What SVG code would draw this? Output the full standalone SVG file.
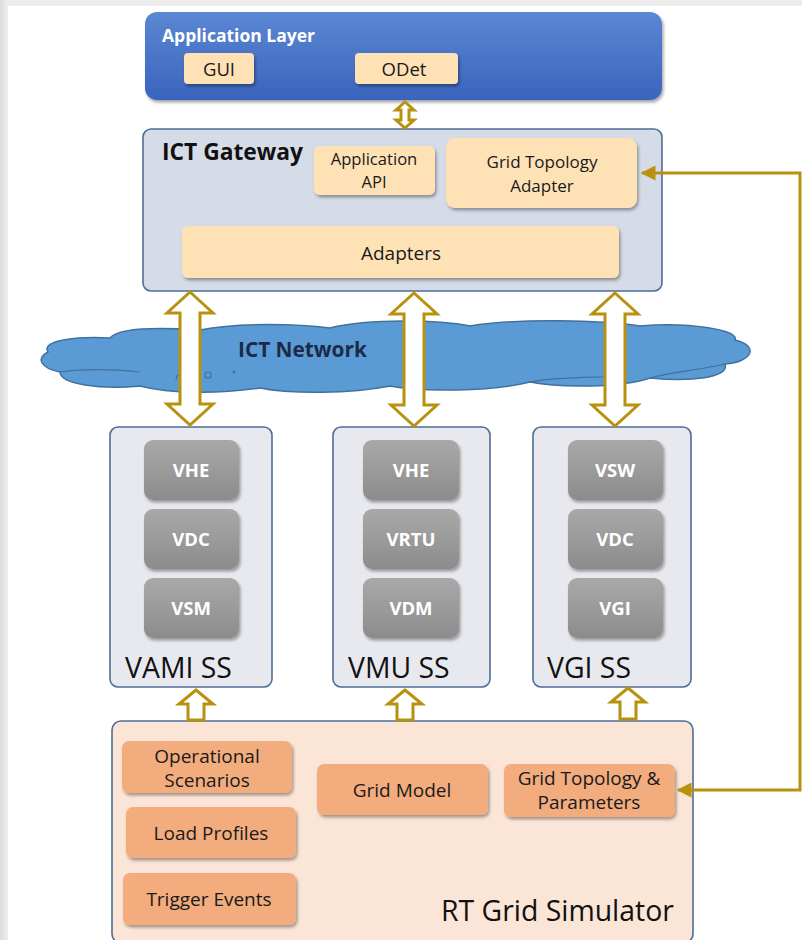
<svg xmlns="http://www.w3.org/2000/svg" width="802" height="940" viewBox="0 0 802 940">
  <defs>
    <linearGradient id="gBlue" x1="0" y1="0" x2="0" y2="1">
      <stop offset="0" stop-color="#5b87d3"/>
      <stop offset="1" stop-color="#3a64bd"/>
    </linearGradient>
    <linearGradient id="gGray" x1="0" y1="0" x2="0" y2="1">
      <stop offset="0" stop-color="#a9a9a9"/>
      <stop offset="1" stop-color="#8c8c8c"/>
    </linearGradient>
    <linearGradient id="gEdgeL" x1="0" y1="0" x2="1" y2="0">
      <stop offset="0" stop-color="#dcdcdc"/>
      <stop offset="1" stop-color="#efefef"/>
    </linearGradient>
    <filter id="shadow" x="-10%" y="-10%" width="125%" height="140%">
      <feDropShadow dx="1.5" dy="2.5" stdDeviation="1.8" flood-color="#000" flood-opacity="0.35"/>
    </filter>
    <marker id="tipL" viewBox="0 0 10 10" refX="9" refY="5" markerWidth="5" markerHeight="5" orient="auto-start-reverse">
      <path d="M0,0 L10,5 L0,10 z" fill="#b8920f"/>
    </marker>
    <style>
      .peach { fill: #fee2b6; filter: url(#shadow); }
      .orange { fill: #f2ac7d; filter: url(#shadow); }
      .gray { fill: url(#gGray); filter: url(#shadow); }
      .panel { stroke: #4d6e96; stroke-width: 1.6; }
      .t { font-family: "Open Sans", Lato, "Liberation Sans", sans-serif; fill: #1a1a1a; text-anchor: middle; }
      .tw { font-family: "Open Sans", Lato, "Liberation Sans", sans-serif; fill: #ffffff; font-weight: bold; font-size: 18.5px; text-anchor: middle; }
      .big { font-family: "Open Sans", Lato, "Liberation Sans", sans-serif; fill: #111; font-size: 28.4px; }
      .head { font-family: "Open Sans", Lato, "Liberation Sans", sans-serif; font-weight: bold; }
      .dbl { fill: #ffffff; stroke: #b8920f; stroke-width: 3; stroke-linejoin: miter; }
      .link { fill: none; stroke: #b8920f; stroke-width: 3; }
    </style>
  </defs>

  <!-- page background -->
  <rect x="0" y="0" width="802" height="940" fill="#ffffff"/>
  <rect x="0" y="0" width="802" height="6" fill="#ececec"/>
  <rect x="0" y="0" width="8" height="940" fill="url(#gEdgeL)"/>

  <!-- network cloud -->
  <g id="ict-network">
    <path d="M48,352 C40,340 80,336 110,338 C120,326 170,328 200,330 C240,322 300,324 330,328 C370,318 440,320 470,326 C520,318 600,320 640,326 C690,322 740,330 735,340 C760,346 752,362 725,364 C730,378 690,382 650,378 C620,388 560,388 530,382 C490,392 420,392 390,386 C350,394 290,394 260,388 C220,394 170,394 140,386 C100,390 60,384 60,372 C40,368 36,358 48,352 z" fill="#5b9bd5" stroke="#41719c" stroke-width="1.5"/>
    <path d="M60,372 C90,368 120,370 140,372 M530,382 C560,376 600,378 620,376 M650,378 C670,372 700,370 725,364" fill="none" stroke="#41719c" stroke-width="1.2"/>
    <circle cx="208" cy="375" r="3" fill="none" stroke="#41719c" stroke-width="1.2"/>
    <circle cx="234" cy="372" r="1.6" fill="#41719c"/>
    <path d="M176,380 C176,374 182,372 184,376" fill="none" stroke="#41719c" stroke-width="1.2"/>
    <text x="238" y="357" class="head" font-size="20.8" fill="#1c2a48">ICT Network</text>
  </g>

  <!-- application layer -->
  <g id="application-layer">
    <rect x="145" y="12" width="517" height="88" rx="12" fill="url(#gBlue)" filter="url(#shadow)"/>
    <text x="162" y="42" class="head" font-size="17.5" fill="#ffffff">Application Layer</text>
    <g id="gui">
      <rect x="184" y="53" width="70" height="31" rx="4" class="peach"/>
      <text x="219" y="76" class="t" font-size="18.5">GUI</text>
    </g>
    <g id="odet">
      <rect x="355" y="53" width="103" height="31" rx="4" class="peach"/>
      <text x="404" y="76" class="t" font-size="18.5">ODet</text>
    </g>
  </g>

  <!-- ICT gateway -->
  <g id="ict-gateway">
    <rect x="143" y="129" width="519" height="162" rx="8" fill="#d6dce7" class="panel"/>
    <text x="162" y="160" class="head" font-size="22.8" fill="#111">ICT Gateway</text>
    <g id="application-api">
      <rect x="314" y="146" width="121" height="49" rx="6" class="peach"/>
      <text x="374" y="165" class="t" font-size="16.6">Application</text>
      <text x="374" y="188" class="t" font-size="16.6">API</text>
    </g>
    <g id="grid-topology-adapter">
      <rect x="446" y="138" width="191" height="70" rx="9" class="peach"/>
      <text x="542" y="168" class="t" font-size="17">Grid Topology</text>
      <text x="542" y="192" class="t" font-size="17">Adapter</text>
    </g>
    <g id="adapters">
      <rect x="182" y="226" width="437" height="52" rx="6" class="peach"/>
      <text x="401" y="260" class="t" font-size="19">Adapters</text>
    </g>
  </g>

  <!-- VAMI subsystem -->
  <g id="vami-ss">
    <rect x="110" y="427" width="162" height="260" rx="8" fill="#e8e9ee" class="panel"/>
    <rect x="144" y="440" width="95" height="60" rx="9" class="gray"/>
    <text x="191" y="477" class="tw">VHE</text>
    <rect x="144" y="509" width="95" height="60" rx="9" class="gray"/>
    <text x="191" y="546" class="tw">VDC</text>
    <rect x="144" y="578" width="95" height="60" rx="9" class="gray"/>
    <text x="191" y="615" class="tw">VSM</text>
    <text x="125" y="678" class="big">VAMI SS</text>
  </g>

  <!-- VMU subsystem -->
  <g id="vmu-ss">
    <rect x="333" y="427" width="157" height="260" rx="8" fill="#e8e9ee" class="panel"/>
    <rect x="363" y="440" width="96" height="60" rx="9" class="gray"/>
    <text x="411" y="477" class="tw">VHE</text>
    <rect x="363" y="509" width="96" height="60" rx="9" class="gray"/>
    <text x="411" y="546" class="tw">VRTU</text>
    <rect x="363" y="578" width="96" height="60" rx="9" class="gray"/>
    <text x="411" y="615" class="tw">VDM</text>
    <text x="348" y="678" class="big">VMU SS</text>
  </g>

  <!-- VGI subsystem -->
  <g id="vgi-ss">
    <rect x="533" y="427" width="158" height="260" rx="8" fill="#e8e9ee" class="panel"/>
    <rect x="568" y="440" width="95" height="60" rx="9" class="gray"/>
    <text x="615" y="477" class="tw">VSW</text>
    <rect x="568" y="509" width="95" height="60" rx="9" class="gray"/>
    <text x="615" y="546" class="tw">VDC</text>
    <rect x="568" y="578" width="95" height="60" rx="9" class="gray"/>
    <text x="615" y="615" class="tw">VGI</text>
    <text x="547" y="678" class="big">VGI SS</text>
  </g>

  <!-- real-time grid simulator -->
  <g id="rt-grid-simulator">
    <rect x="112" y="721" width="581" height="222" rx="9" fill="#fbe5d6" class="panel"/>
    <g id="operational-scenarios">
      <rect x="122" y="741" width="170" height="52" rx="7" class="orange"/>
      <text x="207" y="763" class="t" font-size="19">Operational</text>
      <text x="207" y="787" class="t" font-size="19">Scenarios</text>
    </g>
    <g id="load-profiles">
      <rect x="126" y="807" width="170" height="51" rx="7" class="orange"/>
      <text x="211" y="840" class="t" font-size="19">Load Profiles</text>
    </g>
    <g id="trigger-events">
      <rect x="123" y="873" width="173" height="52" rx="7" class="orange"/>
      <text x="209" y="906" class="t" font-size="19">Trigger Events</text>
    </g>
    <g id="grid-model">
      <rect x="317" y="764" width="171" height="51" rx="7" class="orange"/>
      <text x="402" y="797" class="t" font-size="19">Grid Model</text>
    </g>
    <g id="grid-topology-parameters">
      <rect x="504" y="764" width="171" height="53" rx="7" class="orange"/>
      <text x="589" y="785" class="t" font-size="19">Grid Topology &amp;</text>
      <text x="589" y="809" class="t" font-size="19">Parameters</text>
    </g>
    <text x="441" y="921" class="big">RT Grid Simulator</text>
  </g>

  <!-- connectors -->
  <g id="connectors">
    <!-- application layer <-> gateway -->
    <path class="dbl" d="M405,102 L414,110 L409,110 L409,120 L414,120 L405,128 L396,120 L401,120 L401,110 L396,110 z"/>
    <!-- gateway <-> subsystems through the network -->
    <path class="dbl" d="M190,292 L213,313 L200,313 L200,404 L213,404 L190,425 L167,404 L180,404 L180,313 L167,313 z"/>
    <path class="dbl" d="M414,293 L437,314 L424,314 L424,405 L437,405 L414,426 L391,405 L404,405 L404,314 L391,314 z"/>
    <path class="dbl" d="M615,293 L638,314 L625,314 L625,405 L638,405 L615,426 L592,405 L605,405 L605,314 L592,314 z"/>
    <!-- simulator -> subsystems -->
    <path class="dbl" d="M196,690 L213,704 L204,704 L204,720 L188,720 L188,704 L179,704 z"/>
    <path class="dbl" d="M405,690 L422,704 L413,704 L413,720 L397,720 L397,704 L388,704 z"/>
    <path class="dbl" d="M628,688 L645,702 L636,702 L636,719 L620,719 L620,702 L611,702 z"/>
    <!-- topology feed loop -->
    <path class="link" d="M678,790 L800,790 L800,173 L642,173" marker-start="url(#tipL)" marker-end="url(#tipL)"/>
  </g>
</svg>
